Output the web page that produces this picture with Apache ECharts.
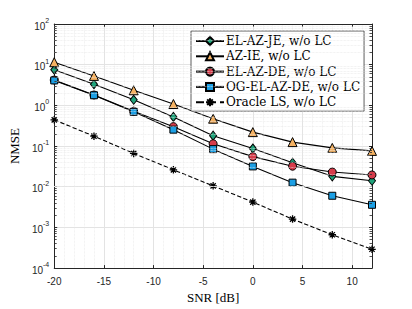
<!DOCTYPE html>
<html><head><meta charset="utf-8">
<script src="https://cdn.jsdelivr.net/npm/echarts@6/dist/echarts.min.js"></script>
<style>html,body{margin:0;padding:0;background:#fff}#c{width:412px;height:309px}</style>
</head><body><div id="c"></div>
<script>
const snr = [-20, -16, -12, -8, -4, 0, 4, 8, 12];
const elAzJe   = [7.5, 3.3, 1.37, 0.52, 0.18, 0.087, 0.039, 0.018, 0.014];
const azIe     = [11.5, 5.3, 2.35, 1.08, 0.47, 0.22, 0.125, 0.09, 0.076];
const elAzDe   = [4.2, 1.8, 0.72, 0.30, 0.114, 0.055, 0.032, 0.023, 0.0195];
const ogElAzDe = [4.1, 1.77, 0.695, 0.253, 0.084, 0.0316, 0.0126, 0.006, 0.0036];
const oracle   = [0.44, 0.175, 0.066, 0.026, 0.0105, 0.0042, 0.0016, 0.00066, 0.00029];
const names = ['EL-AZ-JE, w/o LC', 'AZ-IE, w/o LC', 'EL-AZ-DE, w/o LC', 'OG-EL-AZ-DE, w/o LC', 'Oracle LS, w/o LC'];
const yDecades = [-4, -3, -2, -1, 0, 1, 2];

const minorVals = [];
for (let e = -4; e < 2; e++) for (let m = 2; m <= 9; m++) minorVals.push(m * Math.pow(10, e));
const minorY = minorVals.map(v => ({yAxis: v}));
const minorTicks = [];
minorVals.forEach(v => {
  minorTicks.push([{coord: [-20, v]}, {coord: [-19.75, v]}]);
  minorTicks.push([{coord: [11.75, v]}, {coord: [12, v]}]);
});

const pair = a => snr.map((x, i) => [x, a[i]]);
const star = 'path://M0,-10L0,10M-10,0L10,0M-7,-7L7,7M-7,7L7,-7';
const axisCol = '#262626';
const serif = "'Liberation Serif', 'DejaVu Serif', serif";
const dserif = "'DejaVu Serif', serif";
const sans = "'Liberation Sans', Arial, sans-serif";

function mk(name, data, symbol, size, fill, dashed) {
  return {
    name, type: 'line', data: pair(data), symbol, symbolSize: size,
    z: 3,
    lineStyle: {color: '#000', width: 1.1, type: dashed ? 'dashed' : 'solid', dashOffset: 0},
    itemStyle: symbol === star ? {color: 'rgba(0,0,0,0)', borderColor: '#000', borderWidth: 1.3, borderType: 'solid'}
                               : {color: fill, borderColor: '#000', borderWidth: 1, borderType: 'solid'},
    emphasis: {disabled: true}, animation: false
  };
}

const chart = echarts.init(document.getElementById('c'), null, {renderer: 'svg'});
chart.setOption({
  animation: false,
  backgroundColor: '#fff',
  grid: {left: 53, right: 40, top: 24, bottom: 35, containLabel: false},
  legend: {
    data: names, orient: 'vertical', left: 191, top: 31,
    backgroundColor: '#fff', borderColor: '#333', borderWidth: 0.8,
    padding: [4, 4, 3, 4], itemWidth: 28, itemHeight: 10, itemGap: 3.3,
    textStyle: {fontFamily: dserif, fontSize: 12, color: '#000', padding: [0, 0, 0, -3]}
  },
  xAxis: [{
    type: 'value', min: -20, max: 12, interval: 5,
    name: 'SNR [dB]', nameLocation: 'middle', nameGap: 20,
    nameTextStyle: {fontFamily: serif, fontSize: 13, color: '#000'},
    axisLine: {onZero: false, lineStyle: {color: axisCol, width: 1}},
    axisTick: {inside: true, length: 3, lineStyle: {color: axisCol}},
    axisLabel: {fontFamily: sans, fontSize: 10, color: axisCol, margin: 8, showMaxLabel: false},
    splitLine: {show: true, lineStyle: {color: '#e3e3e3', width: 1}},
    minorTick: {show: false, splitNumber: 5},
    minorSplitLine: {show: true, lineStyle: {color: '#e6e6e6', width: 0.7, type: 'dotted'}}
  }, {
    type: 'value', min: -20, max: 12, interval: 5, position: 'top',
    axisLine: {onZero: false, lineStyle: {color: axisCol, width: 1}},
    axisTick: {inside: true, length: 3, lineStyle: {color: axisCol}},
    axisLabel: {show: false}, splitLine: {show: false}
  }],
  yAxis: [{
    type: 'log', logBase: 10, min: 1e-4, max: 100, interval: 1,
    name: 'NMSE', nameLocation: 'middle', nameGap: 32, nameRotate: 90,
    nameTextStyle: {fontFamily: serif, fontSize: 13, color: '#000'},
    axisLine: {show: true, onZero: false, lineStyle: {color: axisCol, width: 1}},
    axisTick: {show: true, inside: true, length: 3, lineStyle: {color: axisCol}},
    axisLabel: {
      margin: 5,
      formatter: v => {
        const e = Math.round(Math.log10(v));
        if (!yDecades.includes(e)) return '';
        return '{b|10}{s|' + e + '}';
      },
      rich: {
        b: {fontFamily: sans, fontSize: 10, color: axisCol, verticalAlign: 'bottom', lineHeight: 12},
        s: {fontFamily: sans, fontSize: 7, color: axisCol, verticalAlign: 'top', lineHeight: 14, padding: [0, 0, 6, 0]}
      }
    },
    splitLine: {show: true, lineStyle: {color: '#e3e3e3', width: 1}}
  }, {
    type: 'log', logBase: 10, min: 1e-4, max: 100, interval: 1, position: 'right',
    axisLine: {show: true, onZero: false, lineStyle: {color: axisCol, width: 1}},
    axisTick: {show: true, inside: true, length: 3, lineStyle: {color: axisCol}},
    axisLabel: {show: false}, splitLine: {show: false}
  }],
  series: [
    mk(names[0], elAzJe, 'diamond', [7, 9], '#1fa37b'),
    mk(names[1], azIe, 'triangle', 9, '#f5b263'),
    mk(names[2], elAzDe, 'circle', 8, '#d63c4b'),
    mk(names[3], ogElAzDe, 'rect', 7, '#1c9fe4'),
    mk(names[4], oracle, star, 7.5, '#000', true),
    {
      name: 'minorgrid', type: 'line', data: [], z: 1, silent: true,
      markLine: {
        silent: true, symbol: 'none', animation: false,
        label: {show: false},
        lineStyle: {color: '#e6e6e6', width: 0.7, type: 'dotted'},
        emphasis: {disabled: true},
        data: minorY
      }
    },
    {
      name: 'minorticks', type: 'line', data: [], z: 4, silent: true,
      markLine: {
        silent: true, symbol: 'none', animation: false,
        label: {show: false},
        lineStyle: {color: axisCol, width: 0.8, type: 'solid'},
        emphasis: {disabled: true},
        data: minorTicks
      }
    }
  ]
});
</script></body></html>
